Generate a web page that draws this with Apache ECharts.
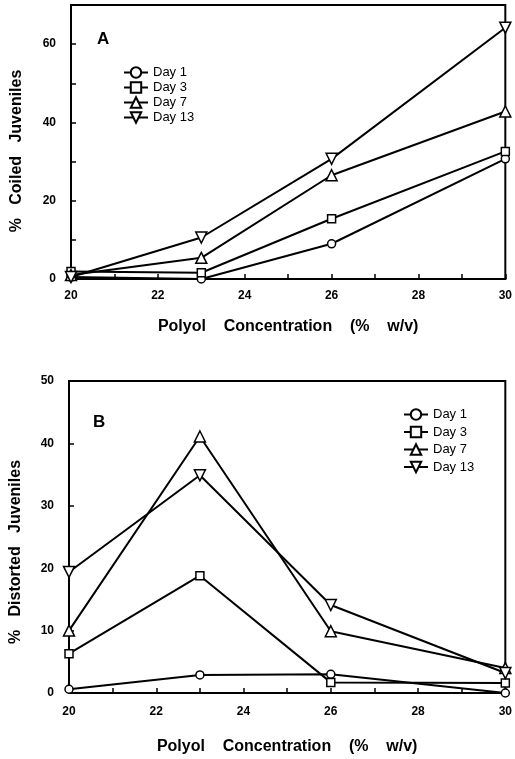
<!DOCTYPE html>
<html><head><meta charset="utf-8">
<script src="https://cdn.jsdelivr.net/npm/echarts@6/dist/echarts.min.js"></script>
<style>html,body{margin:0;padding:0;background:#fff}#c{width:515px;height:759px}</style>
</head><body><div id="c"></div>
<script>
const concentrations = [20, 23, 26, 30];
const seriesNames = ['Day 1', 'Day 3', 'Day 7', 'Day 13'];
// Panel A: % Coiled Juveniles
const coiledDay1 = [0.5, 0, 9.0, 30.7];
const coiledDay3 = [1.9, 1.6, 15.4, 32.6];
const coiledDay7 = [1.0, 5.4, 26.5, 42.8];
const coiledDay13 = [0.5, 10.6, 30.7, 64.2];
// Panel B: % Distorted Juveniles
const distortedDay1 = [0.6, 2.9, 3.0, 0];
const distortedDay3 = [6.3, 18.8, 1.7, 1.6];
const distortedDay7 = [10.0, 41.1, 9.9, 4.0];
const distortedDay13 = [19.4, 34.9, 14.1, 3.2];
const xTickLabels = [20, 22, 24, 26, 28, 30];
const yTickLabelsA = [0, 20, 40, 60];
const yTickLabelsB = [0, 10, 20, 30, 40, 50];

const symbols = ['circle', 'rect', 'triangle', 'path://M0,0 L10,0 L5,10 Z'];
const symbolSizes = [8, 8, 11, 11];
const FONT = 'Liberation Sans, Arial, sans-serif';

function pairs(vals){ return concentrations.map((c,i)=>[c, vals[i]]); }
function mkSeries(dataArr, gi){
  return dataArr.map((d,i)=>({
    name: seriesNames[i], type: 'line', xAxisIndex: gi, yAxisIndex: gi,
    data: pairs(d), symbol: symbols[i], symbolSize: symbolSizes[i], clip: false,
    lineStyle: {color: '#000', width: 2}, itemStyle: {color: '#fff', borderColor: '#000', borderWidth: 1.5},
    z: 3
  }));
}
function xAxis(gi){
  return {
    type: 'value', gridIndex: gi, min: 20, max: 30, interval: 1,
    name: 'Polyol    Concentration    (%    w/v)', nameLocation: 'middle', nameGap: gi === 0 ? 40 : 46,
    nameTextStyle: {fontFamily: FONT, fontWeight: 'bold', fontSize: 16, color: '#000'},
    axisLine: {show: true, lineStyle: {color: '#000', width: 2}},
    axisTick: {show: true, inside: true, length: 5, lineStyle: {color: '#000', width: 1.5}},
    axisLabel: {fontFamily: FONT, fontWeight: 'bold', fontSize: 12, color: '#000', margin: gi === 0 ? 11 : 13,
      formatter: v => xTickLabels.includes(v) ? String(v) : ''},
    splitLine: {show: false}
  };
}
function yAxis(gi, max, interval, labels, name){
  return {
    type: 'value', gridIndex: gi, min: 0, max: max, interval: interval,
    name: name, nameLocation: 'middle', nameGap: gi === 0 ? 46 : 45, nameRotate: 90,
    nameTextStyle: {fontFamily: FONT, fontWeight: 'bold', fontSize: 16, color: '#000',
      padding: gi === 0 ? [0, 18, 0, 0] : [0, 30, 0, 0]},
    axisLine: {show: true, lineStyle: {color: '#000', width: 2}},
    axisTick: {show: true, inside: true, length: 5, lineStyle: {color: '#000', width: 1.5}},
    axisLabel: {fontFamily: FONT, fontWeight: 'bold', fontSize: 12, color: '#000', margin: gi === 0 ? 15 : 15,
      formatter: v => labels.includes(v) ? String(v) : ''},
    splitLine: {show: false}
  };
}
const legendBase = {
  orient: 'vertical', itemWidth: 24, itemHeight: 13,
  textStyle: {fontFamily: FONT, fontSize: 13, color: '#000'},
  inactiveColor: '#000', selectedMode: false
};
const chart = echarts.init(document.getElementById('c'), null, {renderer: 'canvas'});
chart.setOption({
  animation: false,
  backgroundColor: '#fff',
  title: [
    {text: 'A', left: 92, top: 26, textStyle: {fontFamily: FONT, fontWeight: 'bold', fontSize: 17, color: '#000'}},
    {text: 'B', left: 88, top: 409, textStyle: {fontFamily: FONT, fontWeight: 'bold', fontSize: 17, color: '#000'}}
  ],
  grid: [
    {left: 71, top: 5, right: 5, bottom: 480, show: true, borderColor: '#000', borderWidth: 2, backgroundColor: 'transparent'},
    {left: 68, top: 381, right: 8, bottom: 66, show: true, borderColor: '#000', borderWidth: 2, backgroundColor: 'transparent'}
  ],
  xAxis: [xAxis(0), xAxis(1)],
  yAxis: [yAxis(0, 70, 10, yTickLabelsA, '%   Coiled   Juveniles'), yAxis(1, 50, 10, yTickLabelsB, '%   Distorted   Juveniles')],
  legend: [
    Object.assign({}, legendBase, {left: 118, top: 61, itemGap: 2, data: seriesNames}),
    Object.assign({}, legendBase, {left: 398, top: 403, itemGap: 4.5, data: seriesNames})
  ],
  series: [].concat(
    mkSeries([coiledDay1, coiledDay3, coiledDay7, coiledDay13], 0),
    mkSeries([distortedDay1, distortedDay3, distortedDay7, distortedDay13], 1)
  )
});
</script></body></html>
